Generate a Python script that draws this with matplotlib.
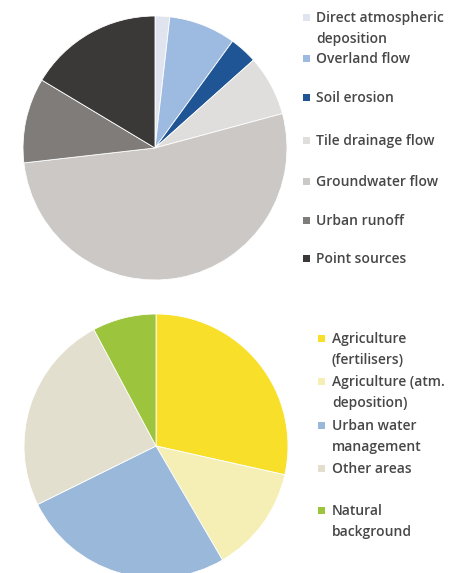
import matplotlib
matplotlib.use("Agg")
import matplotlib.pyplot as plt
from matplotlib.patches import Rectangle

# Top pie: sources of loads (%)
source_labels = ["Direct atmospheric\ndeposition", "Overland flow", "Soil erosion",
                 "Tile drainage flow", "Groundwater flow", "Urban runoff", "Point sources"]
source_values = [1.8, 8.2, 3.4, 7.4, 52.4, 10.4, 16.4]
source_colors = ["#dfe4ee", "#9dbbe0", "#1f5595", "#e0dedc", "#cbc8c6", "#7f7c7a", "#3b3838"]

# Bottom pie: origin of loads (%)
origin_labels = ["Agriculture\n(fertilisers)", "Agriculture (atm.\ndeposition)",
                 "Urban water\nmanagement", "Other areas", "Natural\nbackground"]
origin_values = [28.5, 13.1, 26.1, 24.5, 7.8]
origin_colors = ["#f8e02a", "#f5efb5", "#9ab8da", "#e3dfcf", "#9cc43c"]

W, H = 460, 573
fig = plt.figure(figsize=(W / 100, H / 100), dpi=100)
fig.patch.set_facecolor("white")

text_color = "#474747"
font = "Open Sans"


def pie_axes(cx, cy, r):
    """ Axes in pixel coords so the pie of radius 1 lands at (cx, cy) with radius r """
    ax = fig.add_axes([(cx - r) / W, 1 - (cy + r) / H, 2 * r / W, 2 * r / H])
    ax.axis("off")
    return ax


def legend(labels, colors, x_box, x_text, ys):
    for label, color, y in zip(labels, colors, ys):
        fig.patches.append(Rectangle((x_box / W, 1 - (y + 4) / H), 7 / W, 7 / H,
                                     transform=fig.transFigure, facecolor=color,
                                     edgecolor="none"))
        fig.text(x_text / W, 1 - (y - 6) / H, label, ha="left", va="top", fontsize=10,
                 family=font, weight="semibold", color=text_color, linespacing=1.62)


ax1 = pie_axes(155, 148, 132)
ax1.pie(source_values, colors=source_colors, startangle=90, counterclock=False,
        radius=1, wedgeprops=dict(edgecolor="white", linewidth=0.6))
ax1.set_xlim(-1, 1)
ax1.set_ylim(-1, 1)

ax2 = pie_axes(156, 446, 132)
ax2.pie(origin_values, colors=origin_colors, startangle=90, counterclock=False,
        radius=1, wedgeprops=dict(edgecolor="white", linewidth=0.6))
ax2.set_xlim(-1, 1)
ax2.set_ylim(-1, 1)

legend(source_labels, source_colors, 303, 316, [17, 58, 97, 140, 181, 220, 258])
legend(origin_labels, origin_colors, 318, 332, [338, 381, 425, 468, 510])

fig.savefig("out.png", dpi=100, facecolor="white")
